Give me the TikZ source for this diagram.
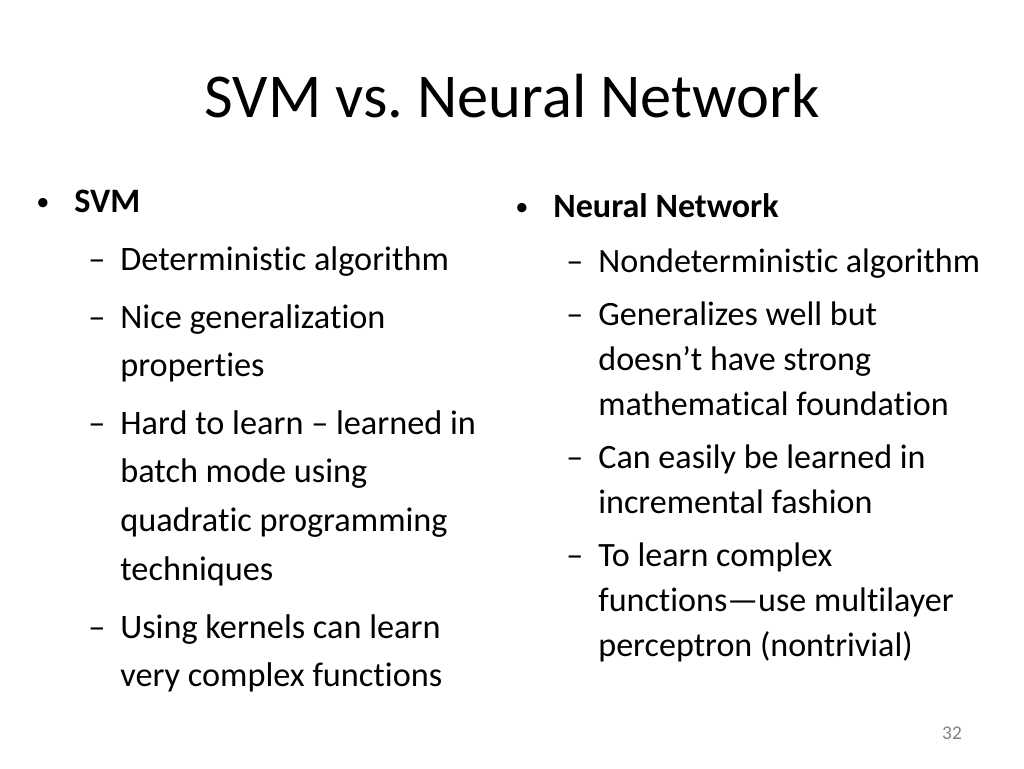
\documentclass[tikz,border=0pt]{standalone}
\usepackage{fontspec}
\setmainfont[Ligatures=NoCommon]{Carlito}
\frenchspacing
\begin{document}
\begin{tikzpicture}[x=0.02cm,y=-0.02cm,
  every node/.style={inner sep=0pt,anchor=base west},
  title/.style={font=\fontsize{35.5}{40}\selectfont,anchor=base},
  lefttxt/.style={font=\fontsize{19.5}{24}\selectfont},
  righttxt/.style={font=\fontsize{19.4}{24}\selectfont},
  bulletmark/.style={font=\fontsize{15}{18}\selectfont},
  pagenum/.style={font=\fontsize{11}{13}\selectfont,text=gray,anchor=base}]
\useasboundingbox (0,0) rectangle (1024,768);
\node[title] (title) at (512,117) {SVM vs. Neural Network};
% left column
\node[bulletmark] (lb) at (36,210) {•};
\node[lefttxt] (svm) at (74,212) {\bfseries SVM};
\foreach \y/\t/\d [count=\i] in {
  270/Deterministic algorithm/1,
  328/Nice generalization/1,
  376/properties/0,
  434/Hard to learn -- learned in/1,
  482/batch mode using/0,
  531/quadratic programming/0,
  580/techniques/0,
  638/Using kernels can learn/1,
  686/very complex functions/0}{
  \node[lefttxt] (l\i) at (120,\y) {\t};
  \ifnum\d=1 \node[lefttxt] (ld\i) at (88,\y) {--}; \fi
}
% right column
\node[bulletmark] (rb) at (515,215) {•};
\node[righttxt] (nn) at (553,217) {\bfseries Neural Network};
\foreach \y/\t/\d [count=\i] in {
  272/Nondeterministic algorithm/1,
  325/Generalizes well but/1,
  370/doesn’t have strong/0,
  415/mathematical foundation/0,
  468/Can easily be learned in/1,
  513/incremental fashion/0,
  566/To learn complex/1,
  611/functions---use multilayer/0,
  656/perceptron (nontrivial)/0}{
  \node[righttxt] (r\i) at (598,\y) {\t};
  \ifnum\d=1 \node[righttxt] (rd\i) at (566,\y) {--}; \fi
}
\node[pagenum] (pg) at (952,739) {32};
\end{tikzpicture}
\end{document}
